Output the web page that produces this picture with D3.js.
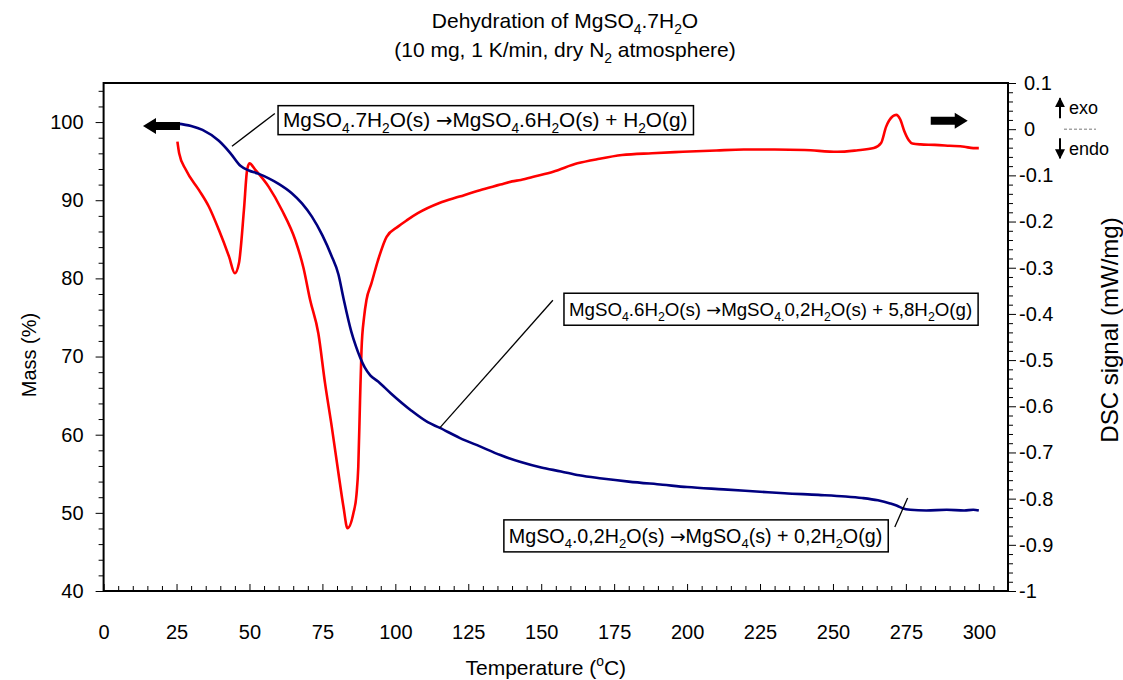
<!DOCTYPE html>
<html><head><meta charset="utf-8">
<script src="https://cdn.jsdelivr.net/npm/d3@7"></script>
<style>body{margin:0;background:#fff}svg{display:block;font-family:"Liberation Sans",Arial,sans-serif}text{white-space:pre}</style>
</head><body><svg id="c" width="1123" height="680"></svg>
<script>
// ---------- DATA ----------
const massTemp = [25.3,30,33.9,39.5,43.5,46.9,49.8,53,56.6,60,64.5,68,71.4,75,78,80.5,82.2,84.9,86.5,87.9,89.5,91.4,94.1,98.4,105.4,111.1,115.1,122,129,136,143,150,156.8,163,170.8,180,191.6,200,212.5,225,233.4,245,254.3,260,265.4,269.6,272,273.8,276.5,282,289,295,298.1,300];
const massPct  = [99.8,99.5,99.0,97.6,96.0,94.4,93.8,93.4,92.8,92.1,90.9,89.6,87.9,85.5,83.0,80.5,77.5,73.2,71.3,69.9,68.6,67.6,66.8,65.3,63.1,61.6,60.9,59.6,58.5,57.4,56.5,55.8,55.3,54.8,54.4,54.0,53.6,53.3,53.0,52.7,52.5,52.3,52.1,51.9,51.6,51.2,50.9,50.6,50.4,50.3,50.4,50.3,50.4,50.3];
const dscTemp = [25.3,25.9,28.2,32.7,36.1,39.5,43,45,46.4,48.1,49.2,50,52,56.6,61.1,65.7,68.5,70.8,73.6,75.9,78.2,80.5,82.2,83.6,85.6,86.7,87.3,87.9,88.4,89.3,90.1,91.8,94,97,100.9,104,107.7,115.1,122,129,136,140,143,148,154.1,162.4,170,177.7,188,198.6,210,219.4,230,240.3,251.5,258,264,266.5,268.2,270.5,271.7,273,274.5,276,277.2,280,284.9,290,295,298.1,300];
const dscVal  = [-0.027,-0.052,-0.088,-0.132,-0.168,-0.218,-0.276,-0.312,-0.290,-0.175,-0.088,-0.074,-0.088,-0.125,-0.175,-0.240,-0.300,-0.370,-0.442,-0.550,-0.644,-0.745,-0.817,-0.864,-0.832,-0.790,-0.731,-0.587,-0.478,-0.406,-0.370,-0.334,-0.285,-0.233,-0.211,-0.197,-0.182,-0.160,-0.146,-0.132,-0.120,-0.113,-0.110,-0.102,-0.092,-0.074,-0.064,-0.056,-0.052,-0.049,-0.046,-0.044,-0.044,-0.045,-0.049,-0.046,-0.041,-0.030,0.005,0.028,0.031,0.022,-0.005,-0.024,-0.031,-0.033,-0.034,-0.036,-0.038,-0.041,-0.041];
const xTicks = [0,25,50,75,100,125,150,175,200,225,250,275,300];
const massTicks = [40,50,60,70,80,90,100];
const dscTicks = [-1,-0.9,-0.8,-0.7,-0.6,-0.5,-0.4,-0.3,-0.2,-0.1,0,0.1];
const titleLines = ["Dehydration of MgSO_4.7H_2O", "(10 mg, 1 K/min, dry N_2 atmosphere)"];
const xLabel = "Temperature (^oC)";
const yLeftLabel = "Mass (%)";
const yRightLabel = "DSC signal (mW/mg)";
const reactions = [
  "MgSO_4.7H_2O(s) \u2192MgSO_4.6H_2O(s) + H_2O(g)",
  "MgSO_4.6H_2O(s) \u2192MgSO_4_.0,2H_2O(s) + 5,8H_2O(g)",
  "MgSO_4.0,2H_2O(s) \u2192MgSO_4(s) + 0,2H_2O(g)"
];

// ---------- LAYOUT ----------
const svg = d3.select("#c");
const L = 103.6, R = 1008, T = 83, B = 591;
const x = d3.scaleLinear().domain([0,310]).range([L,R]);
const yM = d3.scaleLinear().domain([40,105]).range([B,T]);
const yD = d3.scaleLinear().domain([-1,0.1]).range([B,T]);
const FS = 20;

function parse(s){const p=[];let b='';for(let i=0;i<s.length;i++){const c=s[i];
  if(c==='_'||c==='^'){if(b){p.push({t:b,m:0});b='';}p.push({t:s[i+1],m:c==='_'?1:2});i++;}
  else if(c==='\u2192'){if(b){p.push({t:b,m:0});b='';}p.push({t:c,m:0,arrow:true});}
  else b+=c;}
  if(b)p.push({t:b,m:0});return p;}
function rich(t,s,size){let cur=0;parse(s).forEach(p=>{const tg=p.m===1?0.28*size:p.m===2?-0.42*size:0;
  const ts=t.append('tspan').attr('dy',(tg-cur).toFixed(2)).attr('font-size',p.m?size*0.66:size).text(p.t);
  if(p.arrow) ts.attr('font-family','"DejaVu Sans"').attr('font-size',size*0.95);
  cur=tg;});return t;}

// title
titleLines.forEach((s,i)=>rich(svg.append('text').attr('x',565).attr('y',28+i*29).attr('text-anchor','middle').attr('font-size',21),s,21));

// axes
const gx = svg.append('g').attr('transform',`translate(0,${B})`);
gx.call(d3.axisBottom(x).tickValues(d3.range(0,311,5)).tickSize(-6).tickFormat(''));
gx.call(g=>g.selectAll('.tick line').attr('stroke','#000').attr('y2',d=>d%25===0?-7:-5));
gx.append('g').call(d3.axisBottom(x).tickValues(xTicks).tickSize(0).tickPadding(0).tickFormat(d3.format('d')))
  .call(g=>{g.select('.domain').remove();g.selectAll('text').attr('font-size',FS).attr('font-family',null).attr('fill','#000').attr('dy',null).attr('y',48);});

const gl = svg.append('g').attr('transform',`translate(${L},0)`);
gl.call(d3.axisLeft(yM).tickValues(d3.range(40,105.01,2)).tickSize(5).tickFormat(''));
gl.call(g=>g.selectAll('.tick line').attr('x2',d=>d%10===0?-8:-5));
gl.append('g').call(d3.axisLeft(yM).tickValues(massTicks).tickSize(0).tickPadding(20).tickFormat(d3.format('d')))
  .call(g=>{g.select('.domain').remove();g.selectAll('text').attr('font-size',FS).attr('font-family',null).attr('fill','#000');});

const gr = svg.append('g').attr('transform',`translate(${R},0)`);
gr.call(d3.axisRight(yD).tickValues(d3.range(-50,6).map(v=>v/50)).tickSize(5).tickFormat(''));
gr.call(g=>g.selectAll('.tick line').attr('x2',d=>Math.abs(Math.round(d*50))%5===0?8:5));
gr.append('g').call(d3.axisRight(yD).tickValues(dscTicks).tickSize(0).tickPadding(16).tickFormat(d=>String(+(+d).toFixed(1))))
  .call(g=>{g.select('.domain').remove();g.selectAll('text').attr('font-size',FS).attr('font-family',null).attr('fill','#000')
    .attr('dx',d=>d<0?-5:0);});

svg.selectAll('.domain').attr('stroke','none');
svg.append('rect').attr('x',L).attr('y',T).attr('width',R-L).attr('height',B-T).attr('fill','none').attr('stroke','#000').attr('stroke-width',2);

// axis labels
rich(svg.append('text').attr('x',(L+R)/2-10).attr('y',675).attr('text-anchor','middle').attr('font-size',21),xLabel,21);
svg.append('text').attr('transform',`translate(36,355) rotate(-90)`).attr('text-anchor','middle').attr('font-size',20).text(yLeftLabel);
svg.append('text').attr('transform',`translate(1118,330) rotate(-90)`).attr('text-anchor','middle').attr('font-size',24).text(yRightLabel);

// curves
const lineM = d3.line().x((d,i)=>x(massTemp[i])).y(d=>yM(d)).curve(d3.curveMonotoneX);
const lineD = d3.line().x((d,i)=>x(dscTemp[i])).y(d=>yD(d)).curve(d3.curveMonotoneX);
svg.append('path').datum(dscVal).attr('d',lineD).attr('fill','none').attr('stroke','#ff0000').attr('stroke-width',2.6).attr('stroke-linejoin','round');
svg.append('path').datum(massPct).attr('d',lineM).attr('fill','none').attr('stroke','#000080').attr('stroke-width',2.6).attr('stroke-linejoin','round');

// annotation boxes
const notes = [
  {i:0, t:59.8, m:102.1, fs:20.8, h:29, lead:[[58.7,101.1],[44.0,96.9]]},
  {i:1, t:157.8, m:78.1, fs:18.7, h:32, lead:[[154.0,77.2],[115.3,60.9]]},
  {i:2, t:137.2, m:49.1, fs:19.7, h:32, lead:[[271.2,48.2],[275.6,51.9]]}
];
notes.forEach(n=>{
  svg.append('line').attr('x1',x(n.lead[0][0])).attr('y1',yM(n.lead[0][1])).attr('x2',x(n.lead[1][0])).attr('y2',yM(n.lead[1][1])).attr('stroke','#000').attr('stroke-width',1.3);
  const g = svg.append('g');
  const rect = g.append('rect');
  const tx = rich(g.append('text').attr('x',x(n.t)+5).attr('y',yM(n.m)+n.h/2+7).attr('font-size',n.fs),reactions[n.i],n.fs);
  const bb = tx.node().getBBox();
  rect.attr('x',x(n.t)).attr('y',yM(n.m)).attr('width',bb.width+11).attr('height',n.h).attr('fill','#fff').attr('stroke','#000').attr('stroke-width',1.5);
});

// direction arrows
function fatArrow(tipX, tipY, dir){
  const hl=13, hw=8, bw=4, len=37;
  const p=[[0,0],[hl,-hw],[hl,-bw],[len,-bw],[len,bw],[hl,bw],[hl,hw]].map(([a,b])=>[tipX-dir*a, tipY+b]);
  svg.append('polygon').attr('points',p.map(q=>q.join(',')).join(' ')).attr('fill','#000');
}
fatArrow(x(13.5), yM(99.5), -1);
fatArrow(x(296.2), yD(0.018), 1);

// exo / endo
const ex = R+52, y0 = yD(0);
svg.append('defs').append('marker').attr('id','ah').attr('viewBox','0 0 10 10').attr('refX',9).attr('refY',5).attr('markerWidth',5).attr('markerHeight',6).attr('orient','auto')
  .append('path').attr('d','M0,0L10,5L0,10Z').attr('fill','#000');
svg.append('line').attr('x1',ex).attr('y1',y0-11).attr('x2',ex).attr('y2',y0-31).attr('stroke','#000').attr('stroke-width',2).attr('marker-end','url(#ah)');
svg.append('line').attr('x1',ex).attr('y1',y0+9).attr('x2',ex).attr('y2',y0+29).attr('stroke','#000').attr('stroke-width',2).attr('marker-end','url(#ah)');
svg.append('line').attr('x1',ex+4).attr('y1',y0).attr('x2',ex+36).attr('y2',y0).attr('stroke','#777').attr('stroke-width',1).attr('stroke-dasharray','3,2');
svg.append('text').attr('x',ex+9).attr('y',y0-15).attr('font-size',18).text('exo');
svg.append('text').attr('x',ex+9).attr('y',y0+26).attr('font-size',18).text('endo');
</script></body></html>
